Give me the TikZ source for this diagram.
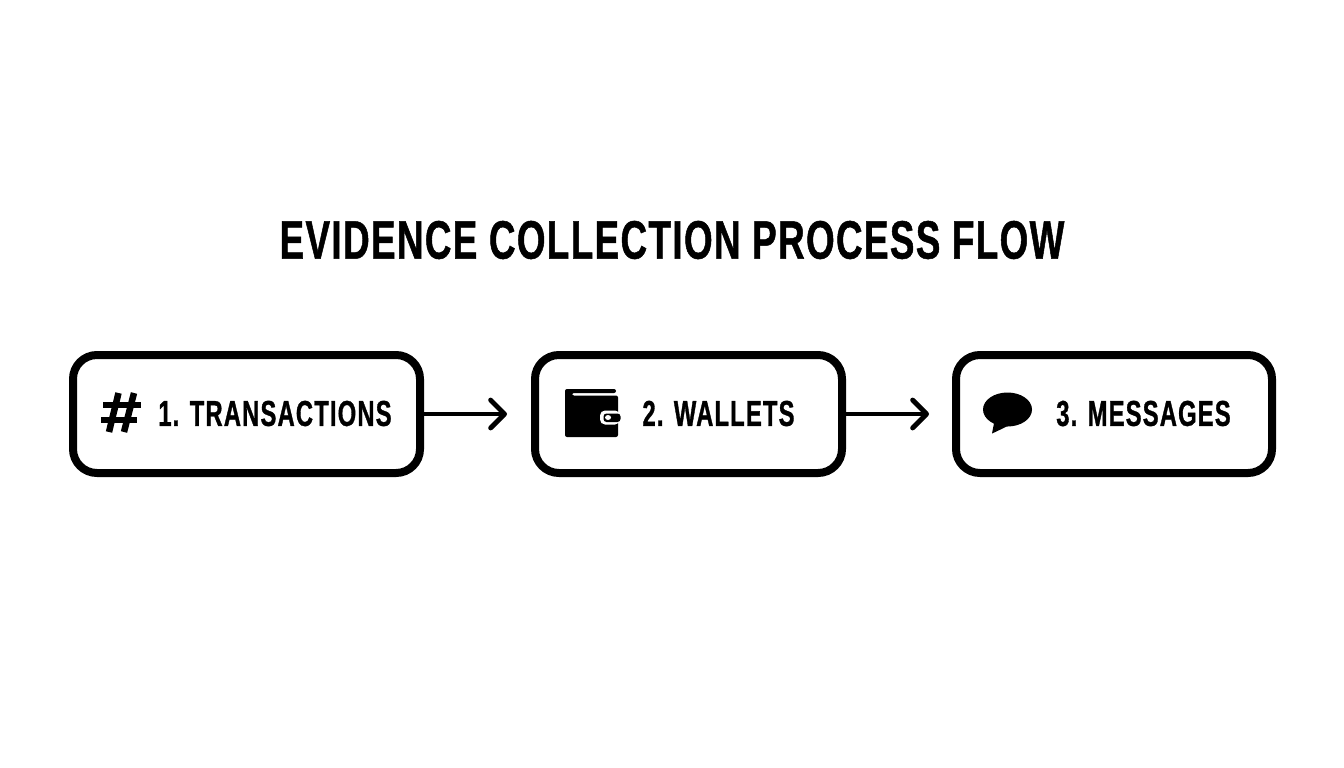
\documentclass[tikz,border=0pt]{standalone}
\usepackage{fontspec}
\setmainfont{Liberation Sans}
\newfontfamily\titlefont{Liberation Sans Bold}[FakeStretch=0.68,FakeBold=0.9,LetterSpace=2.65]
\newfontfamily\labelfont{Liberation Sans Bold}[FakeStretch=0.66,FakeBold=0.9,LetterSpace=3.3]
\usetikzlibrary{arrows.meta}
\tikzset{
  x=1pt,y=-1pt,
  stepbox/.style={draw=black,line width=8pt,rounded corners=24pt,fill=white,minimum height=118pt,inner sep=0pt},
  titletext/.style={font=\titlefont\fontsize{54}{54}\selectfont,inner sep=0pt,text=black},
  steptext/.style={font=\labelfont\fontsize{36}{36}\selectfont,inner sep=0pt,text=black},
  flow/.style={line width=4.8pt,-{Straight Barb[length=14pt,width=28pt,line cap=round,round]}},
  ink/.style={fill=black,draw=none}
}
\begin{document}
\begin{tikzpicture}
\useasboundingbox (0,0) rectangle (1344,768);
\fill[white] (0,0) rectangle (1344,768);
\node[titletext] (title) at (672,240) {EVIDENCE COLLECTION PROCESS FLOW};
\node[stepbox,minimum width=347pt] (b1) at (246.5,414) {};
\node[stepbox,minimum width=307pt] (b2) at (688.5,414) {};
\node[stepbox,minimum width=316pt] (b3) at (1114,414) {};
\node[steptext] (t1) at (275,413.5) {1. TRANSACTIONS};
\node[steptext] (t2) at (718.5,413.5) {2. WALLETS};
\node[steptext] (t3) at (1143.5,413.5) {3. MESSAGES};
\coordinate (e1) at (507,414);
\coordinate (e2) at (929,414);
\draw[flow] (b1.east |- e1) -- (e1);
\draw[flow] (b2.east |- e2) -- (e2);
% hash
\draw[line width=6.5pt] (118.5,393) -- (109,432) (134,393) -- (124,432);
\draw[line width=6pt] (103,405) -- (141,405) (101,420) -- (137,420);
% wallet
\fill[ink,rounded corners=2pt] (565,389) -- (616,389) -- (616,393) -- (572,393) -- (572,395.5) -- (618,395.5) -- (618,437) -- (565,437) -- cycle;
\fill[white,rounded corners=5pt] (600,410.5) rectangle (620,424.5);
\fill[black,rounded corners=3pt] (603.5,413.5) rectangle (620.5,422);
\fill[white] (608,417.5) ellipse [x radius=3pt,y radius=2.5pt];
% speech bubble
\fill[ink] (1007.5,409.5) ellipse [x radius=24.5pt,y radius=17pt];
\fill[ink] (995,418) -- (992,433.5) .. controls (998,431) and (1003,428) .. (1010,425) -- cycle;
\end{tikzpicture}
\end{document}
